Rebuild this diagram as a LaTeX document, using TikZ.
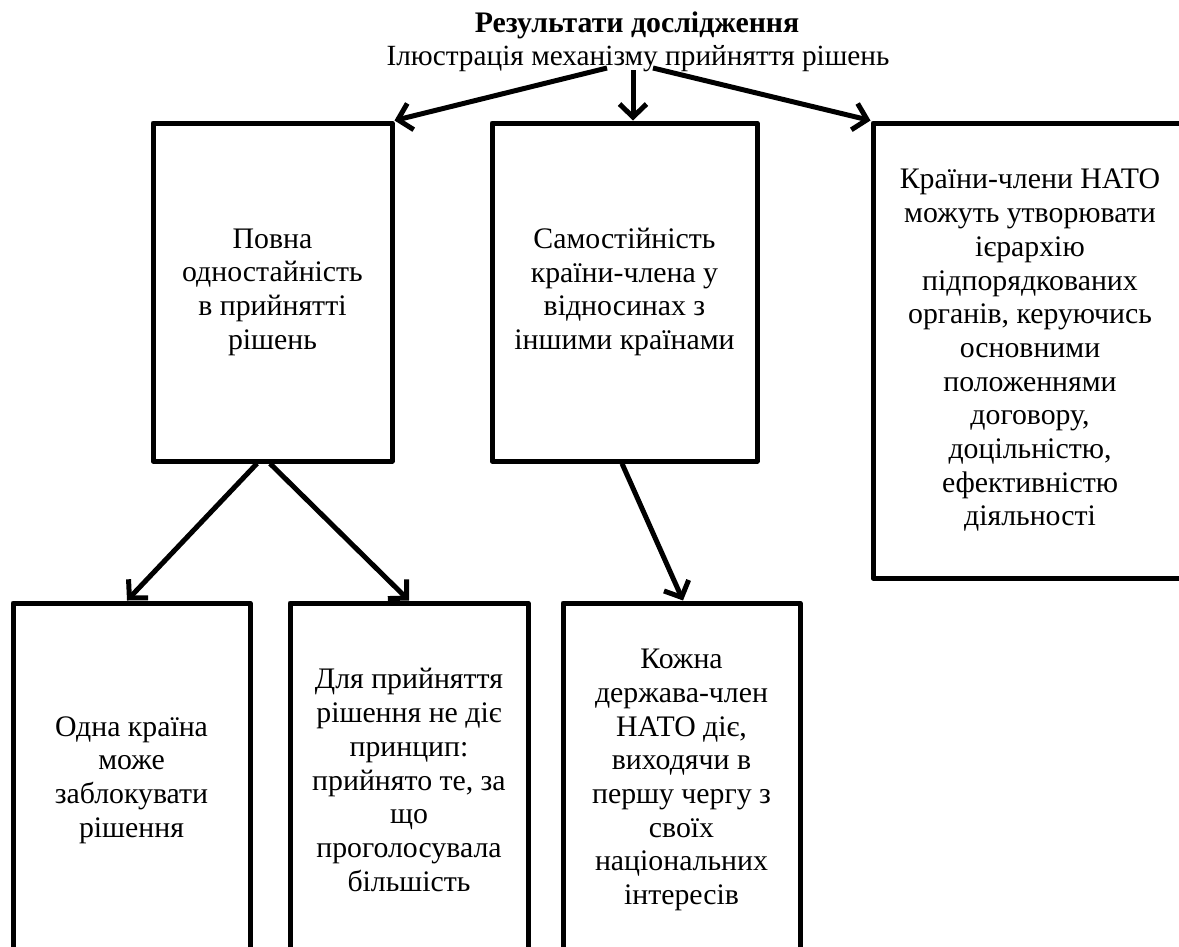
\documentclass[tikz,border=0pt]{standalone}
\usepackage{fontspec}
\setmainfont{Liberation Serif}
\usetikzlibrary{arrows.meta,calc}
\begin{document}
\begin{tikzpicture}[x=1pt,y=-1pt,
  bodyfont/.style={font=\fontsize{29.8}{33.7}\selectfont},
  box/.style={draw, line width=5pt, line join=round, align=center, inner sep=0pt, bodyfont},
  conn/.style={line width=5pt, -{Straight Barb[length=13pt,width=27pt]}},
  txt/.style={inner sep=0pt, anchor=base}]
\useasboundingbox (0,0) rectangle (1179,946);
\clip (0,0) rectangle (1179,946);
\fill[white] (0,0) rectangle (1179,946);
\node[txt, font=\fontsize{29.8}{33.7}\selectfont\bfseries] (title) at (637,32) {Результати дослідження};
\node[txt, font=\fontsize{29.3}{33.7}\selectfont] (sub) at (638,65) {Ілюстрація механізму прийняття рішень};
\node[box, minimum width=239pt, minimum height=338pt] (A) at (272.5,292) {Повна\\одностайність\\в прийнятті\\рішень};
\node[box, minimum width=265pt, minimum height=338pt] (B) at (624.5,292) {Самостійність\\країни-члена у\\відносинах з\\іншими країнами};
\node[box, minimum width=314pt, minimum height=455pt] (C) at (1030,350.5) {Країни-члени НАТО\\можуть утворювати\\ієрархію\\підпорядкованих\\органів, керуючись\\основними\\положеннями\\договору,\\доцільністю,\\ефективністю\\діяльності};
\node[box, minimum width=237pt, minimum height=354pt] (D) at (131.5,780) {Одна країна\\може\\заблокувати\\рішення};
\node[box, minimum width=238pt, minimum height=354pt] (E) at (409,780) {Для прийняття\\рішення не діє\\принцип:\\прийнято те, за\\що\\проголосувала\\більшість};
\node[box, minimum width=237pt, minimum height=354pt] (F) at (681.5,780) {Кожна\\держава-член\\НАТО діє,\\виходячи в\\першу чергу з\\своїх\\національних\\інтересів};
\coordinate (s1) at (607,68);
\coordinate (s2) at (633,70);
\coordinate (s3) at (653,68);
\draw[conn] (s1) -- (A.north east);
\draw[conn] (s2) -- ($(B.north)+(8.5,0)$);
\draw[conn] (s3) -- (C.north west);
\draw[conn] ($(A.south)+(-15.5,0)$) -- ($(D.north)+(-4.5,0)$);
\draw[conn] ($(A.south)+(-2.5,0)$) -- (E.north);
\draw[conn] ($(B.south)+(-2.5,0)$) -- ($(F.north)+(1.5,0)$);
\end{tikzpicture}
\end{document}
